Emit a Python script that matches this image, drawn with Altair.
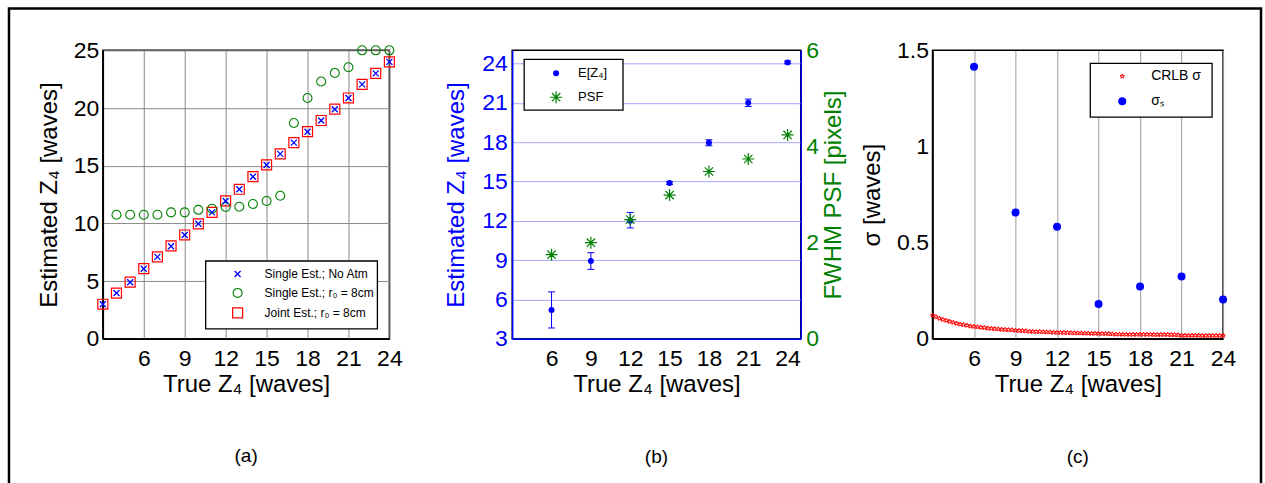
import altair as alt
import pandas as pd

FONT = "Liberation Sans"
BLUE = "#0000ff"
GREEN = "#008000"
RED = "#ff0000"
GRID_A = "#8a8a8a"
GRID_B = "#a8a8ff"
GRID_C = "#9c9c9c"

# ---------------- panel (a) data ----------------
a_true = [3, 4, 5, 6, 7, 8, 9, 10, 11, 12, 13, 14, 15, 16, 17, 18, 19, 20, 21, 22, 23, 24]
a_no_atm = [3.0, 3.97, 4.9, 6.08, 7.1, 8.03, 9.0, 9.97, 10.96, 11.94, 12.96, 14.05,
            15.07, 16.03, 17.0, 17.94, 18.92, 19.9, 20.87, 22.05, 23.0, 24.0]
a_joint = [3.0, 3.97, 4.92, 6.08, 7.1, 8.05, 9.0, 9.97, 10.96, 11.96, 12.96, 14.05,
           15.07, 16.03, 17.0, 17.96, 18.92, 19.9, 20.87, 22.05, 23.0, 24.0]
a_single_true = [4, 5, 6, 7, 8, 9, 10, 11, 12, 13, 14, 15, 16, 17, 18, 19, 20, 21, 22, 23, 24]
a_single = [10.75, 10.75, 10.75, 10.75, 10.96, 10.96, 11.18, 11.27, 11.42, 11.45, 11.68,
            11.94, 12.4, 18.7, 20.87, 22.3, 23.04, 23.53, 25.0, 25.0, 25.0]
a_names = ["Single Est.; No Atm", "Single Est.; r\u2080 = 8cm", "Joint Est.; r\u2080 = 8cm"]

# ---------------- panel (b) data ----------------
b_true = [6, 9, 12, 15, 18, 21, 24]
b_mean = [5.2, 8.93, 12.0, 14.88, 17.95, 21.0, 24.08]
b_lo = [3.83, 8.3, 11.46, 14.78, 17.72, 20.72, 23.98]
b_hi = [6.58, 9.57, 12.64, 14.98, 18.18, 21.28, 24.18]
b_psf = [1.75, 2.0, 2.48, 2.99, 3.48, 3.74, 4.24]
b_names = ["E[Z\u2084]", "PSF"]

# ---------------- panel (c) data ----------------
c_true = [6, 9, 12, 15, 18, 21, 24]
c_sigma = [1.414, 0.657, 0.583, 0.181, 0.272, 0.324, 0.204]
crlb_x = [3.0, 3.25, 3.5, 3.75, 4.0, 4.25, 4.5, 4.75, 5.0, 5.25, 5.5, 5.75, 6.0, 6.25, 6.5, 6.75,
          7.0, 7.25, 7.5, 7.75, 8.0, 8.25, 8.5, 8.75, 9.0, 9.25, 9.5, 9.75, 10.0, 10.25, 10.5, 10.75,
          11.0, 11.25, 11.5, 11.75, 12.0, 12.25, 12.5, 12.75, 13.0, 13.25, 13.5, 13.75, 14.0, 14.25,
          14.5, 14.75, 15.0, 15.25, 15.5, 15.75, 16.0, 16.25, 16.5, 16.75, 17.0, 17.25, 17.5, 17.75,
          18.0, 18.25, 18.5, 18.75, 19.0, 19.25, 19.5, 19.75, 20.0, 20.25, 20.5, 20.75, 21.0, 21.25,
          21.5, 21.75, 22.0, 22.25, 22.5, 22.75, 23.0, 23.25, 23.5, 23.75, 24.0]
crlb = [0.122, 0.114, 0.106, 0.100, 0.095, 0.090, 0.085, 0.080, 0.076, 0.073, 0.070, 0.066,
        0.064, 0.062, 0.060, 0.058, 0.055, 0.054, 0.052, 0.051, 0.049, 0.048, 0.047, 0.046,
        0.044, 0.043, 0.042, 0.041, 0.039, 0.038, 0.037, 0.037, 0.036, 0.035, 0.035, 0.034,
        0.033, 0.033, 0.032, 0.032, 0.031, 0.031, 0.030, 0.030, 0.029, 0.029, 0.028, 0.028,
        0.028, 0.027, 0.027, 0.026, 0.025, 0.024, 0.024, 0.024, 0.023, 0.023, 0.023, 0.023,
        0.023, 0.023, 0.023, 0.023, 0.022, 0.022, 0.022, 0.022, 0.022, 0.021, 0.021, 0.020,
        0.018, 0.018, 0.018, 0.018, 0.018, 0.018, 0.017, 0.017, 0.017, 0.017, 0.017, 0.017, 0.017]
c_names = ["CRLB \u03c3", "\u03c3\u209b"]

x_ticks = [6, 9, 12, 15, 18, 21, 24]

# marker glyphs as symbol paths (Vega has no built-in "star")
XPATH = "M-1,-1L1,1M-1,1L1,-1"
ASTPATH = "M-1,0L1,0M0,-1L0,1M-0.7,-0.7L0.7,0.7M-0.7,0.7L0.7,-0.7"
STARPATH = ("M0,-1L0.235,-0.324L0.951,-0.309L0.38,0.124L0.588,0.809L0,0.4"
            "L-0.588,0.809L-0.38,0.124L-0.951,-0.309L-0.235,-0.324Z")

title_kw = dict(font=FONT, fontSize=19, fontWeight="normal", color="black",
                anchor="middle", frame="group")

ONE = pd.DataFrame({"f": [0]})


def legend_layers(box, sym_x, text_x, rows, entries, font_size):
    """Legend box drawn inside a panel (pixel layout of the legend only)."""
    x0, y0, x1, y1 = box
    layers = [alt.Chart(ONE).mark_rect(fill="white", stroke="black", strokeWidth=1.3).encode(
        x=alt.value(x0), x2=alt.value(x1), y=alt.value(y0), y2=alt.value(y1))]
    for (name, mark_kw), ry in zip(entries, rows):
        d = pd.DataFrame({"label": [name]})
        layers.append(alt.Chart(d).mark_point(opacity=1, **mark_kw).encode(
            x=alt.value(sym_x), y=alt.value(ry)))
        layers.append(alt.Chart(d).mark_text(align="left", baseline="middle", font=FONT,
                                             fontSize=font_size, color="black").encode(
            x=alt.value(text_x), y=alt.value(ry), text="label:N"))
    return layers


# ================= panel (a) =================
xa = alt.X("x:Q", scale=alt.Scale(domain=[3, 24], nice=False, zero=False),
           axis=alt.Axis(values=x_ticks, title="True Z\u2084 [waves]", grid=True, gridColor=GRID_A))
ya = alt.Y("y:Q", scale=alt.Scale(domain=[0, 25], nice=False),
           axis=alt.Axis(values=[0, 5, 10, 15, 20, 25], title="Estimated Z\u2084 [waves]",
                         grid=True, gridColor=GRID_A))

style_noatm = dict(shape=XPATH, filled=False, color=BLUE, size=36, strokeWidth=1.3)
style_single = dict(shape="circle", filled=False, color=GREEN, size=81, strokeWidth=1.1)
style_joint = dict(shape="square", filled=False, color=RED, size=100, strokeWidth=1.2)

joint_pts = alt.Chart(pd.DataFrame({"x": a_true, "y": a_joint})).mark_point(
    opacity=1, **style_joint).encode(x=xa, y=ya)
single_pts = alt.Chart(pd.DataFrame({"x": a_single_true, "y": a_single})).mark_point(
    opacity=1, **style_single).encode(x=xa, y=ya)
noatm_pts = alt.Chart(pd.DataFrame({"x": a_true, "y": a_no_atm})).mark_point(
    opacity=1, **style_noatm).encode(x=xa, y=ya)

frame = alt.Chart(ONE).mark_rect(
    fillOpacity=0, stroke="black", strokeWidth=2.5
).encode(x=alt.value(-94), x2=alt.value(1160), y=alt.value(-42), y2=alt.value(445))

leg_a = legend_layers((103, 211, 275, 279), 135, 162, [224, 243, 263],
                      [(a_names[0], style_noatm), (a_names[1], style_single), (a_names[2], style_joint)], 12)

panel_a = alt.layer(frame, joint_pts, single_pts, noatm_pts, *leg_a).properties(
    width=287, height=289,
    title=alt.TitleParams("(a)", orient="top", offset=-460, **title_kw),
)

# ================= panel (b) =================
df_b = pd.DataFrame({"x": b_true, "mean": b_mean, "lo": b_lo, "hi": b_hi, "psf": b_psf})

xb = alt.X("x:Q", scale=alt.Scale(domain=[3, 25], nice=False, zero=False),
           axis=alt.Axis(values=x_ticks, title="True Z\u2084 [waves]", grid=False, domainColor=BLUE))
yb_scale = alt.Scale(domain=[3, 25], nice=False, zero=False)
yb_axis = alt.Axis(values=[3, 6, 9, 12, 15, 18, 21, 24], title="Estimated Z\u2084 [waves]", grid=True,
                   gridColor=GRID_B, labelColor=BLUE, titleColor=BLUE, domainColor=BLUE,
                   labelPadding=5, titlePadding=13)

style_e = dict(shape="circle", filled=True, color=BLUE, size=36)
style_psf = dict(shape=ASTPATH, filled=False, color=GREEN, size=144, strokeWidth=1.2)

base_b = alt.Chart(df_b)
rules_b = base_b.mark_rule(color=BLUE, strokeWidth=1).encode(
    x=xb, y=alt.Y("lo:Q", scale=yb_scale, axis=yb_axis), y2="hi:Q")
caps_lo = base_b.mark_tick(color=BLUE, orient="horizontal", size=7, thickness=1, opacity=1).encode(
    x=xb, y=alt.Y("lo:Q", scale=yb_scale, axis=yb_axis))
caps_hi = base_b.mark_tick(color=BLUE, orient="horizontal", size=7, thickness=1, opacity=1).encode(
    x=xb, y=alt.Y("hi:Q", scale=yb_scale, axis=yb_axis))
pts_e = base_b.mark_point(opacity=1, **style_e).encode(
    x=xb, y=alt.Y("mean:Q", scale=yb_scale, axis=yb_axis))
left_b = alt.layer(rules_b, caps_lo, caps_hi, pts_e)

pts_psf = base_b.mark_point(opacity=1, **style_psf).encode(
    x=xb,
    y=alt.Y("psf:Q", scale=alt.Scale(domain=[0, 6], nice=False),
            axis=alt.Axis(orient="right", values=[0, 2, 4, 6], title="FWHM PSF [pixels]", grid=False,
                          labelColor=GREEN, titleColor=GREEN, domainColor=BLUE,
                          labelPadding=5, titlePadding=3, titleAngle=270, titleBaseline="top")))

leg_b = legend_layers((12, 9, 111, 60), 44, 66, [23, 47],
                      [(b_names[0], style_e), (b_names[1], style_psf)], 13)

panel_b = alt.layer(left_b, pts_psf, *leg_b).resolve_scale(y="independent").properties(
    width=289, height=289,
    title=alt.TitleParams("(b)", orient="bottom", offset=51, **title_kw),
)

# ================= panel (c) =================
xc = alt.X("x:Q", scale=alt.Scale(domain=[3, 24], nice=False, zero=False),
           axis=alt.Axis(values=x_ticks, title="True Z\u2084 [waves]", grid=True, gridColor=GRID_C))
yc = alt.Y("y:Q", scale=alt.Scale(domain=[0, 1.5], nice=False),
           axis=alt.Axis(values=[0, 0.5, 1, 1.5], format="~g", title="\u03c3 [waves]", grid=False))

style_crlb = dict(shape=STARPATH, filled=False, color=RED, size=22, strokeWidth=1)
style_sig = dict(shape="circle", filled=True, color=BLUE, size=64)

crlb_pts = alt.Chart(pd.DataFrame({"x": crlb_x, "y": crlb})).mark_point(
    opacity=1, **style_crlb).encode(x=xc, y=yc)
sig_pts = alt.Chart(pd.DataFrame({"x": c_true, "y": c_sigma})).mark_point(
    opacity=1, **style_sig).encode(x=xc, y=yc)

leg_c = legend_layers((158, 13, 280, 67), 190, 219, [26, 51],
                      [(c_names[0], style_crlb), (c_names[1], style_sig)], 14)

panel_c = alt.layer(crlb_pts, sig_pts, *leg_c).properties(
    width=291, height=289,
    title=alt.TitleParams("(c)", orient="bottom", offset=51, **title_kw),
)

chart = alt.hconcat(
    panel_a,
    alt.hconcat(panel_b, panel_c, spacing=132, bounds="flush"),
    spacing=123, bounds="flush",
).properties(
    padding={"left": 7, "top": 6, "right": 2, "bottom": 0},
    background="white",
).configure_view(
    stroke="black", strokeWidth=1.5
).configure_axis(
    labelFont=FONT, titleFont=FONT, labelFontSize=23, titleFontSize=24, titleFontWeight="normal",
    ticks=False, domainColor="black", domainWidth=1.5, labelColor="black", titleColor="black",
    labelFlush=False, labelOverlap=False, gridWidth=1, gridOpacity=1,
).configure_axisX(
    labelPadding=9, titlePadding=2
).configure_axisY(
    labelPadding=4, titlePadding=12
)

chart.save("out.html", embed_options={"renderer": "svg", "actions": False})
